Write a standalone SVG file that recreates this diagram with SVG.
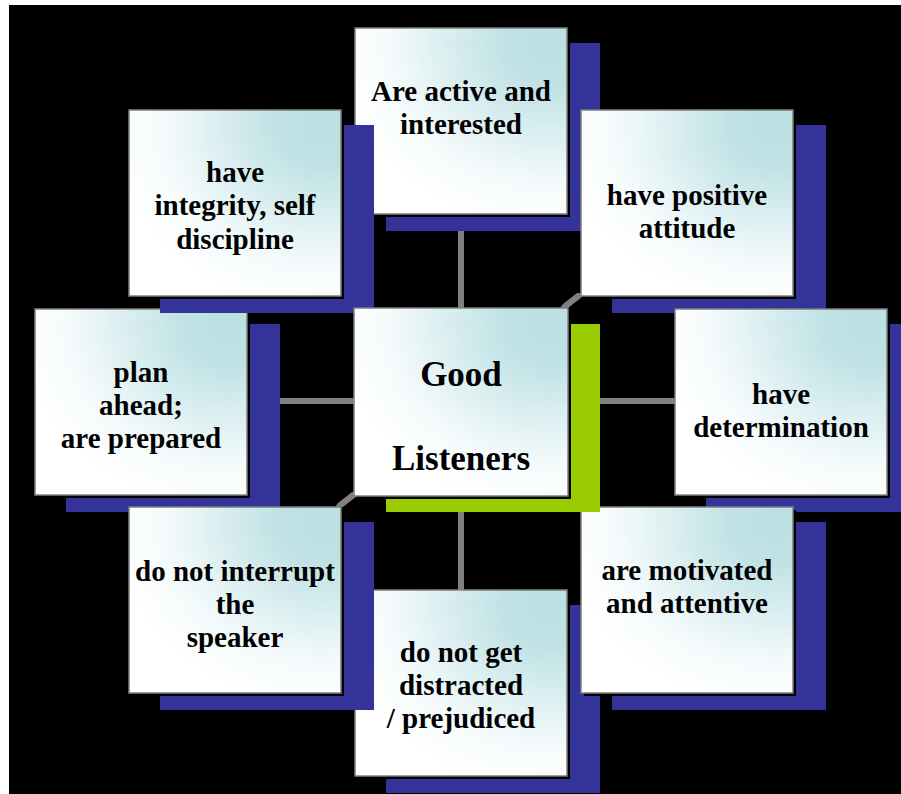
<svg xmlns="http://www.w3.org/2000/svg" width="901" height="794" viewBox="0 0 901 794">
<defs>
<radialGradient id="g" cx="0.92" cy="0.08" r="1" fx="0.92" fy="0.08">
<stop offset="0" stop-color="#bbdfe2"/>
<stop offset="0.22" stop-color="#c0e2e5"/>
<stop offset="0.75" stop-color="#f4fafb"/>
<stop offset="1" stop-color="#ffffff"/>
</radialGradient>
<style>
.sh{fill:#333399}
.gs{fill:#99cc00}
.dk{fill:#000}
.bx{fill:url(#g);stroke:#7f7f7f;stroke-width:1.5}
.t{font-family:'Liberation Serif','Times New Roman',serif;font-weight:bold;font-size:29px;fill:#000;text-anchor:middle}
.tc{font-size:35px}
.c{stroke:#808080;stroke-width:6;fill:none}
</style>
</defs>
<rect x="0" y="0" width="901" height="794" fill="#fff"/>
<rect x="9" y="5" width="892" height="789" fill="#000"/>
<g id="connectors">
<line class="c" x1="461" y1="231" x2="461" y2="309"/>
<line class="c" x1="461" y1="512" x2="461" y2="590"/>
<line class="c" x1="280" y1="401" x2="355" y2="401"/>
<line class="c" x1="600" y1="401" x2="675" y2="401"/>
<polygon fill="#808080" points="563,304 577,293 585,293 582,297 568,308 560,308"/>
<polygon fill="#808080" points="338,503 352,492 360,492 357,496 343,507 335,507"/>
</g>
<g id="n1">
<rect class="sh" x="386" y="43" width="214" height="188"/>
<rect class="dk" x="358" y="31" width="212" height="186"/>
<rect class="bx" x="355" y="28" width="212" height="186"/>
<text class="t" x="461" y="101">Are active and</text>
<text class="t" x="461" y="134">interested</text>
</g>
<g id="n3">
<rect class="sh" x="612" y="125" width="214" height="188"/>
<rect class="dk" x="584" y="113" width="212" height="186"/>
<rect class="bx" x="581" y="110" width="212" height="186"/>
<text class="t" x="687" y="205">have positive</text>
<text class="t" x="687" y="238">attitude</text>
</g>
<g id="n4">
<rect class="sh" x="66" y="324" width="214" height="188"/>
<rect class="dk" x="38" y="312" width="212" height="186"/>
<rect class="bx" x="35" y="309" width="212" height="186"/>
<text class="t" x="141" y="382">plan</text>
<text class="t" x="141" y="415">ahead;</text>
<text class="t" x="141" y="448">are prepared</text>
</g>
<g id="n2">
<rect class="sh" x="160" y="125" width="214" height="188"/>
<rect class="dk" x="132" y="113" width="212" height="186"/>
<rect class="bx" x="129" y="110" width="212" height="186"/>
<text class="t" x="235" y="182">have</text>
<text class="t" x="235" y="215">integrity, self</text>
<text class="t" x="235" y="249">discipline</text>
</g>
<g id="n5">
<rect class="sh" x="706" y="324" width="214" height="188"/>
<rect class="dk" x="678" y="312" width="212" height="186"/>
<rect class="bx" x="675" y="309" width="212" height="186"/>
<text class="t" x="781" y="404">have</text>
<text class="t" x="781" y="437">determination</text>
</g>
<g id="n6">
<rect class="sh" x="386" y="605" width="214" height="188"/>
<rect class="dk" x="358" y="593" width="212" height="186"/>
<rect class="bx" x="355" y="590" width="212" height="186"/>
<text class="t" x="461" y="662">do not get</text>
<text class="t" x="461" y="695">distracted</text>
<text class="t" x="461" y="728">/ prejudiced</text>
</g>
<g id="n8">
<rect class="sh" x="612" y="522" width="214" height="188"/>
<rect class="dk" x="584" y="510" width="212" height="186"/>
<rect class="bx" x="581" y="507" width="212" height="186"/>
<text class="t" x="687" y="580">are motivated</text>
<text class="t" x="687" y="613">and attentive</text>
</g>
<g id="n7">
<rect class="sh" x="160" y="522" width="214" height="188"/>
<rect class="dk" x="132" y="510" width="212" height="186"/>
<rect class="bx" x="129" y="507" width="212" height="186"/>
<text class="t" x="235" y="581">do not interrupt</text>
<text class="t" x="235" y="614">the</text>
<text class="t" x="235" y="647">speaker</text>
</g>
<g id="center">
<rect class="gs" x="386" y="324" width="214" height="188"/>
<rect class="dk" x="357" y="311" width="214" height="188"/>
<rect class="bx" x="354" y="308" width="214" height="188"/>
<text class="t tc" x="461" y="386">Good</text>
<text class="t tc" x="461" y="470">Listeners</text>
</g>
</svg>
